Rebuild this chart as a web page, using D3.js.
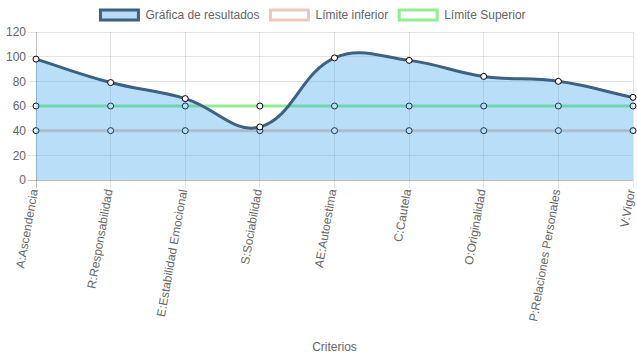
<!DOCTYPE html>
<html>
<head>
<meta charset="utf-8">
<script src="https://cdn.jsdelivr.net/npm/d3@7"></script>
<style>
  html, body { margin: 0; padding: 0; background: #fff; }
  svg { display: block; font-family: "Liberation Sans", Arial, Helvetica, sans-serif; }
</style>
</head>
<body>
<svg id="chart" width="637" height="359"></svg>
<script>
const categories = ["A:Ascendencia", "R:Responsabilidad", "E:Estabilidad Emocional", "S:Sociabilidad",
  "AE:Autoestima", "C:Cautela", "O:Originalidad", "P:Relaciones Personales", "V:Vigor"];
const resultados = [98, 79, 66, 43, 99, 97, 84, 80, 67];
const limiteInferior = [40, 40, 40, 40, 40, 40, 40, 40, 40];
const limiteSuperior = [60, 60, 60, 60, 60, 60, 60, 60, 60];
const yTicks = [0, 20, 40, 60, 80, 100, 120];
const legendLabels = ["Gráfica de resultados", "Límite inferior", "Límite Superior"];
const xTitle = "Criterios";

const W = 637, H = 359;
const pL = 36, pR = 633, pT = 32, pB = 180;
const svg = d3.select("#chart");

const x = d3.scalePoint().domain(categories).range([pL, pR]);
const y = d3.scaleLinear().domain([0, 120]).range([pB, pT]);

const grid = "rgba(0,0,0,0.1)";
const textCol = "#666";

// horizontal grid + ticks
const gy = svg.append("g");
yTicks.forEach(t => {
  gy.append("line").attr("x1", pL - 8).attr("x2", pR)
    .attr("y1", y(t)).attr("y2", y(t))
    .attr("stroke", t === 0 ? "rgba(0,0,0,0.25)" : grid).attr("stroke-width", 1)
    .attr("shape-rendering", "crispEdges");
  gy.append("text").attr("x", pL - 10).attr("y", y(t)).attr("dy", "0.35em")
    .attr("text-anchor", "end").attr("font-size", 12).attr("fill", textCol).text(t);
});
// vertical grid + ticks
const gx = svg.append("g");
categories.forEach((c, i) => {
  gx.append("line").attr("x1", x(c)).attr("x2", x(c))
    .attr("y1", pT).attr("y2", pB + 8)
    .attr("stroke", i === 0 ? "rgba(0,0,0,0.25)" : grid).attr("stroke-width", 1)
    .attr("shape-rendering", "crispEdges");
  gx.append("text")
    .attr("transform", `translate(${x(c) + 2},${pB + 10}) rotate(-80)`)
    .attr("text-anchor", "end").attr("font-size", 12).attr("fill", textCol)
    .text(c);
});
svg.append("text").attr("x", (pL + pR) / 2).attr("y", 351)
  .attr("text-anchor", "middle").attr("font-size", 12).attr("fill", textCol).text(xTitle);

// Chart.js-like spline
function splinePath(vals, closeToZero) {
  const pts = vals.map((v, i) => ({ x: x(categories[i]), y: y(v) }));
  const t = 0.4;
  const cps = pts.map((cur, i) => {
    const prev = pts[i - 1] || cur, next = pts[i + 1] || cur;
    const d01 = Math.hypot(cur.x - prev.x, cur.y - prev.y);
    const d12 = Math.hypot(next.x - cur.x, next.y - cur.y);
    let s01 = d01 / (d01 + d12), s12 = d12 / (d01 + d12);
    if (isNaN(s01)) s01 = 0; if (isNaN(s12)) s12 = 0;
    const fa = t * s01, fb = t * s12;
    const clampY = v => Math.max(pT, Math.min(pB, v));
    return {
      px: cur.x - fa * (next.x - prev.x), py: clampY(cur.y - fa * (next.y - prev.y)),
      nx: cur.x + fb * (next.x - prev.x), ny: clampY(cur.y + fb * (next.y - prev.y))
    };
  });
  const p = d3.path();
  p.moveTo(pts[0].x, pts[0].y);
  for (let i = 1; i < pts.length; i++) {
    p.bezierCurveTo(cps[i - 1].nx, cps[i - 1].ny, cps[i].px, cps[i].py, pts[i].x, pts[i].y);
  }
  if (closeToZero) {
    p.lineTo(pts[pts.length - 1].x, y(0));
    p.lineTo(pts[0].x, y(0));
    p.closePath();
  }
  return p.toString();
}

const datasets = [
  { vals: limiteSuperior, color: "rgb(144,238,144)" },
  { vals: limiteInferior, color: "rgb(232,203,190)" }
];
// draw limit datasets first (underneath)
datasets.forEach(ds => {
  svg.append("path").attr("d", splinePath(ds.vals, false))
    .attr("fill", "none").attr("stroke", ds.color).attr("stroke-width", 3);
  svg.append("g").selectAll("circle").data(ds.vals).join("circle")
    .attr("cx", (d, i) => x(categories[i])).attr("cy", d => y(d)).attr("r", 3)
    .attr("fill", "#fff").attr("stroke", "#000").attr("stroke-width", 1);
});
// results
svg.append("path").attr("d", splinePath(resultados, true))
  .attr("fill", "rgba(54,162,235,0.35)").attr("stroke", "none");
svg.append("path").attr("d", splinePath(resultados, false))
  .attr("fill", "none").attr("stroke", "rgb(62,96,130)").attr("stroke-width", 3);
svg.append("g").selectAll("circle").data(resultados).join("circle")
  .attr("cx", (d, i) => x(categories[i])).attr("cy", d => y(d)).attr("r", 3)
  .attr("fill", "#fff").attr("stroke", "#000").attr("stroke-width", 1);

// legend
const legendItems = [
  { label: legendLabels[0], fill: "rgb(184,218,247)", stroke: "rgb(62,96,130)" },
  { label: legendLabels[1], fill: "#fff", stroke: "rgb(232,203,190)" },
  { label: legendLabels[2], fill: "#fff", stroke: "rgb(144,238,144)" }
];
const lg = svg.append("g");
const items = legendItems.map(it => {
  const g = lg.append("g");
  g.append("rect").attr("width", 38).attr("height", 10).attr("x", 1).attr("y", -5)
    .attr("fill", it.fill).attr("stroke", it.stroke).attr("stroke-width", 3);
  const tx = g.append("text").attr("x", 46).attr("dy", "0.35em").attr("font-size", 12)
    .attr("fill", textCol).text(it.label);
  return { g, w: 46 + tx.node().getComputedTextLength() };
});
const gap = 10;
const total = d3.sum(items, d => d.w + gap);
let cx = (W - total) / 2 - 1;
items.forEach(it => { it.g.attr("transform", `translate(${cx},15)`); cx += it.w + gap; });
</script>
</body>
</html>
